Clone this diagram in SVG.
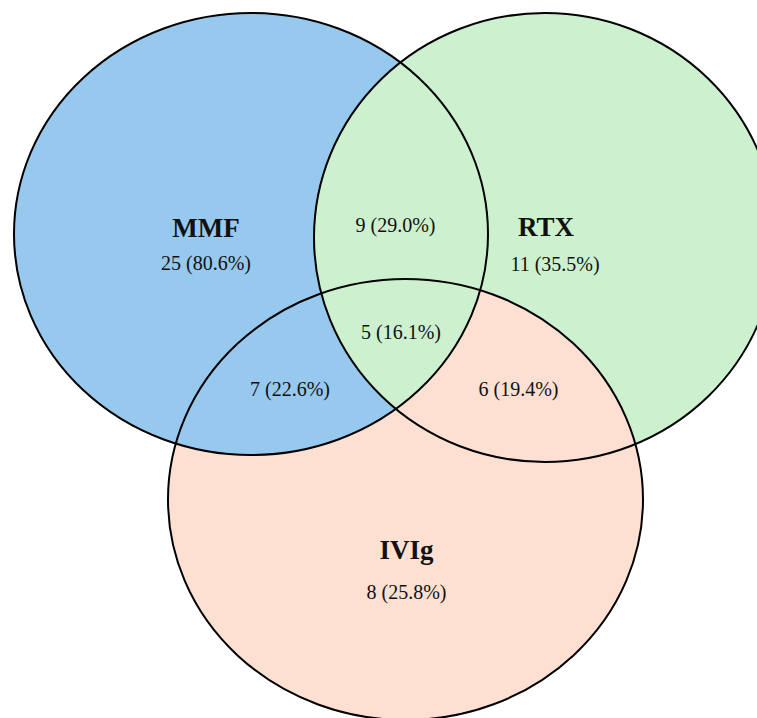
<svg xmlns="http://www.w3.org/2000/svg" width="757" height="718" viewBox="0 0 757 718">
  <style>
    .lbl { font-family: "Liberation Serif", "DejaVu Serif", serif; fill: #111; text-anchor: middle; }
    .name { font-size: 27px; font-weight: bold; }
    .num { font-size: 20px; }
    .outline { fill: none; stroke: #000; stroke-width: 2; }
    .blue { fill: #97C8EE; }
    .green { fill: #CDF0CF; }
    .peach { fill: #FEE0D2; }
  </style>
  <defs>
    <ellipse id="eMMF" cx="251" cy="234" rx="237" ry="221"/>
    <ellipse id="eRTX" cx="545" cy="237.5" rx="231" ry="224.5"/>
    <ellipse id="eIVIg" cx="405.5" cy="499.5" rx="237.5" ry="220.5"/>
    <clipPath id="clipMMF">
      <ellipse cx="251" cy="234" rx="237" ry="221"/>
    </clipPath>
  </defs>
  <rect width="757" height="718" fill="#fff"/>

  <!-- fills -->
  <g id="fills">
    <use href="#eRTX" class="green"/>
    <use href="#eIVIg" class="peach"/>
    <use href="#eMMF" class="blue"/>
    <use href="#eRTX" class="green" clip-path="url(#clipMMF)"/>
  </g>

  <g id="connectors"></g>

  <g id="node-MMF">
    <use href="#eMMF" class="outline"/>
    <text class="lbl name" x="206" y="237">MMF</text>
    <text class="lbl num" x="206" y="270">25 (80.6%)</text>
  </g>
  <g id="node-RTX">
    <use href="#eRTX" class="outline"/>
    <text class="lbl name" x="546" y="236">RTX</text>
    <text class="lbl num" x="555" y="271">11 (35.5%)</text>
  </g>
  <g id="node-IVIg">
    <use href="#eIVIg" class="outline"/>
    <text class="lbl name" x="406.5" y="559">IVIg</text>
    <text class="lbl num" x="406.5" y="599">8 (25.8%)</text>
  </g>
  <g id="overlap-MMF-RTX">
    <text class="lbl num" x="395.5" y="232">9 (29.0%)</text>
  </g>
  <g id="overlap-all">
    <text class="lbl num" x="401" y="339">5 (16.1%)</text>
  </g>
  <g id="overlap-MMF-IVIg">
    <text class="lbl num" x="290" y="396">7 (22.6%)</text>
  </g>
  <g id="overlap-RTX-IVIg">
    <text class="lbl num" x="518.5" y="396">6 (19.4%)</text>
  </g>
</svg>
